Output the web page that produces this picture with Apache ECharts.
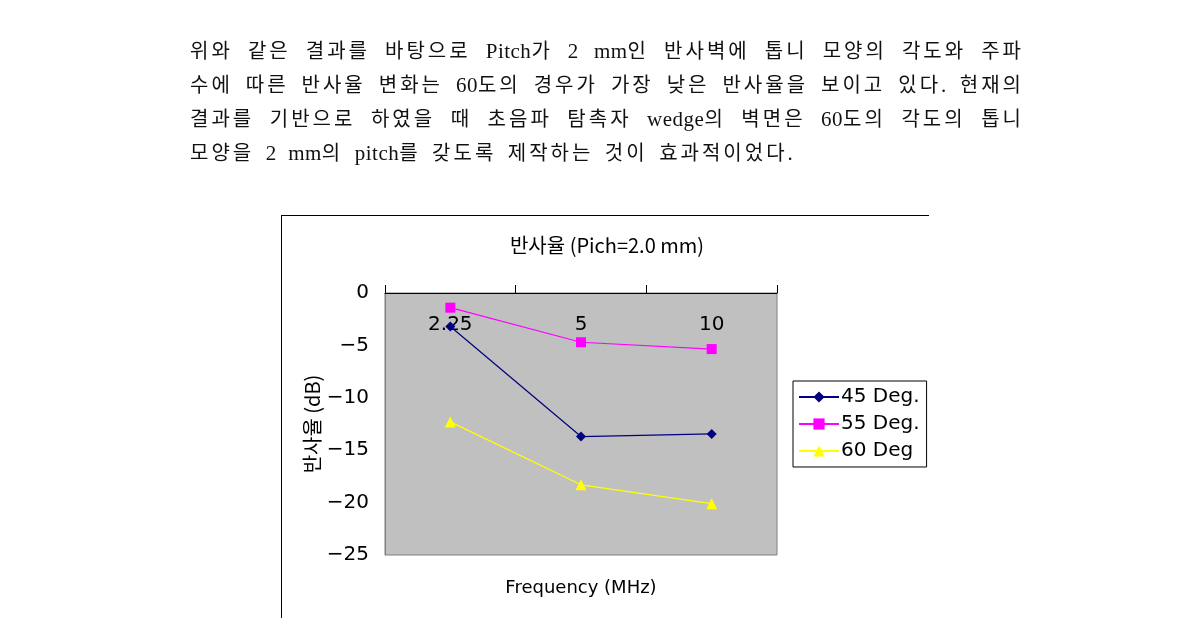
<!DOCTYPE html>
<html>
<head>
<meta charset="utf-8">
<script src="https://cdn.jsdelivr.net/npm/echarts@6/dist/echarts.min.js"></script>
<style>
html,body{margin:0;padding:0;background:#fff;}
#chart{position:absolute;left:0;top:0;width:1190px;height:632px;}
.ln{position:absolute;left:190px;width:834px;font-family:"Noto Sans CJK KR",sans-serif;font-size:20px;letter-spacing:3px;word-spacing:4px;line-height:24px;color:#111;white-space:nowrap;z-index:2;}
.ln span{font-family:"Liberation Serif",serif;font-size:21px;letter-spacing:0.5px;}
.j{text-align:justify;text-align-last:justify;white-space:normal;}
</style>
</head>
<body>
<div id="chart"></div>
<div class="ln j" style="top:38px">위와 같은 결과를 바탕으로 <span>Pitch</span>가 <span>2</span> <span>mm</span>인 반사벽에 톱니 모양의 각도와 주파</div>
<div class="ln j" style="top:72px">수에 따른 반사율 변화는 <span>60</span>도의 경우가 가장 낮은 반사율을 보이고 있다<span>.</span> 현재의</div>
<div class="ln j" style="top:106px">결과를 기반으로 하였을 때 초음파 탐촉자 <span>wedge</span>의 벽면은 <span>60</span>도의 각도의 톱니</div>
<div class="ln" style="top:140px">모양을 <span>2</span> <span>mm</span>의 <span>pitch</span>를 갖도록 제작하는 것이 효과적이었다<span>.</span></div>
<script>
const categories = ['2.25', '5', '10'];
const deg45 = [-3.2, -13.7, -13.45];
const deg55 = [-1.4, -4.7, -5.35];
const deg60 = [-12.3, -18.3, -20.1];
const seriesNames = ['45 Deg.', '55 Deg.', '60 Deg'];

const chart = echarts.init(document.getElementById('chart'));
const font = '"DejaVu Sans", "Noto Sans CJK KR", sans-serif';
chart.setOption({
  animation: false,
  backgroundColor: '#fff',
  title: {
    text: '반사율 (Pich=2.0 mm)',
    left: 602, top: 230, textAlign: 'center',
    textStyle: {fontFamily: '"Noto Sans CJK KR", sans-serif', fontSize: 20, fontWeight: 'normal', color: '#000'}
  },
  grid: {left: 385, right: 413, top: 293, bottom: 77, show: true, backgroundColor: '#c0c0c0', borderColor: '#808080', borderWidth: 1},
  legend: {
    orient: 'vertical', left: 793, top: 381,
    padding: [6, 7, 6, 5], itemGap: 7, itemWidth: 40, itemHeight: 14,
    borderColor: '#000', borderWidth: 1, backgroundColor: '#fff',
    textStyle: {fontFamily: font, fontSize: 20, color: '#000', padding: [0, 0, 0, -3]},
    data: seriesNames
  },
  xAxis: {
    type: 'category', data: categories, position: 'top', boundaryGap: true,
    name: 'Frequency (MHz)', nameLocation: 'middle', nameGap: -304,
    nameTextStyle: {fontFamily: font, fontSize: 18, color: '#000'},
    axisLine: {onZero: false, lineStyle: {color: '#000', width: 1}},
    axisTick: {show: true, inside: false, length: 8, lineStyle: {color: '#000'}},
    axisLabel: {inside: true, margin: 22, fontFamily: font, fontSize: 20, color: '#000'},
    splitLine: {show: false}
  },
  yAxis: {
    type: 'value', min: -25, max: 0, interval: 5,
    name: '반사율 (dB)', nameLocation: 'middle', nameGap: 62, nameRotate: 90,
    nameTextStyle: {fontFamily: '"Noto Sans CJK KR", sans-serif', fontSize: 20, color: '#000'},
    axisLine: {show: true, lineStyle: {color: '#808080'}},
    axisTick: {show: false},
    axisLabel: {margin: 16, fontFamily: font, fontSize: 20, color: '#000', formatter: v => String(v).replace('-', '−')},
    splitLine: {show: false}
  },
  series: [
    {name: seriesNames[0], type: 'line', data: deg45, symbol: 'diamond', symbolSize: 10,
     itemStyle: {color: '#000080'}, lineStyle: {color: '#000080', width: 1.2}},
    {name: seriesNames[1], type: 'line', data: deg55, symbol: 'rect', symbolSize: 10,
     itemStyle: {color: '#ff00ff'}, lineStyle: {color: '#ff00ff', width: 1.2}},
    {name: seriesNames[2], type: 'line', data: deg60, symbol: 'triangle', symbolSize: 11,
     itemStyle: {color: '#ffff00'}, lineStyle: {color: '#ffff00', width: 1.2}}
  ],
  graphic: [
    {type: 'line', shape: {x1: 281, y1: 215.5, x2: 929, y2: 215.5}, style: {stroke: '#000', lineWidth: 1}, silent: true},
    {type: 'line', shape: {x1: 281.5, y1: 215, x2: 281.5, y2: 618}, style: {stroke: '#000', lineWidth: 1}, silent: true}
  ]
});
</script>
</body>
</html>
